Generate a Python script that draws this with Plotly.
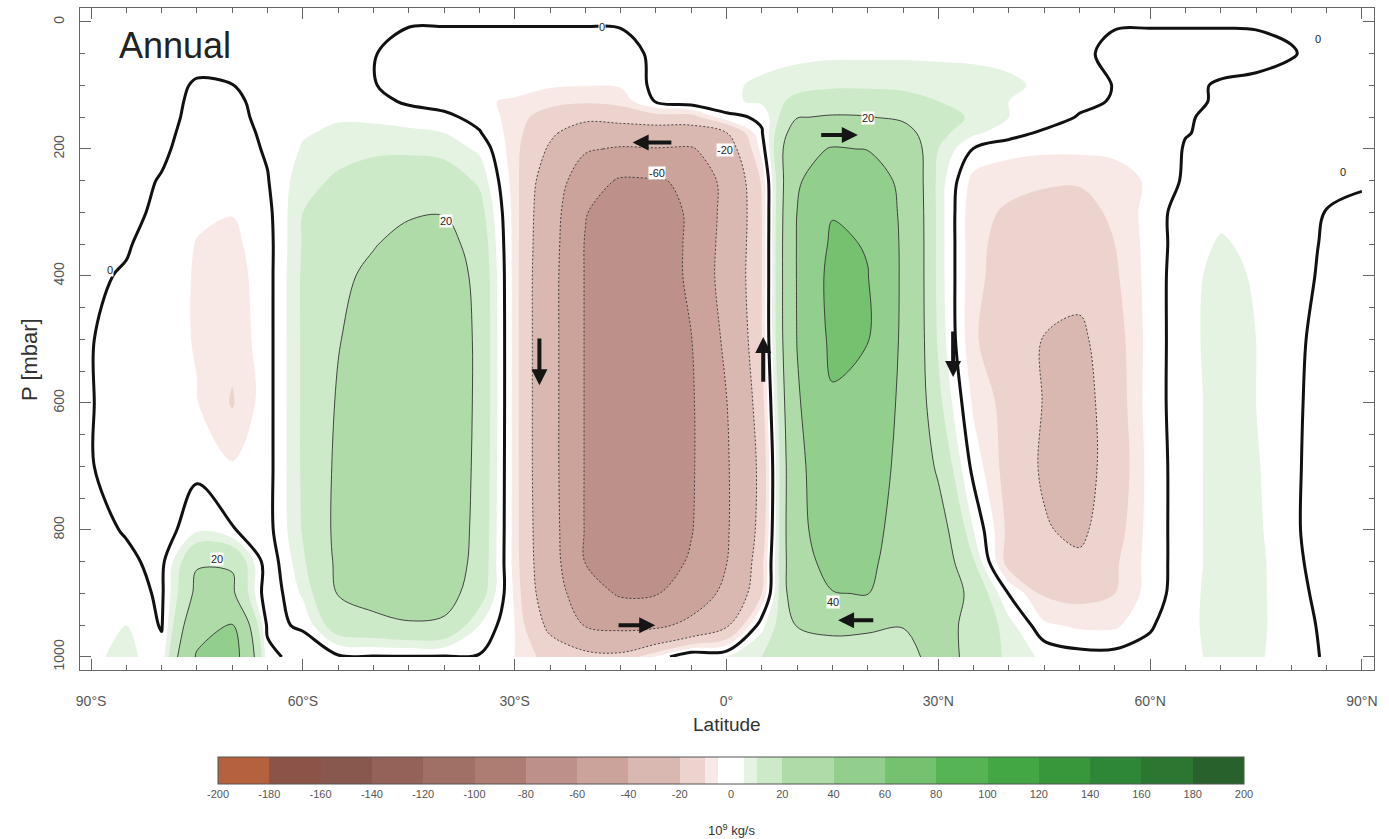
import plotly.graph_objects as go
import numpy as np

# ---------------------------------------------------------------------------
# Annual-mean meridional mass streamfunction, 10^9 kg/s
# ---------------------------------------------------------------------------
latitudes = list(range(-90, 91, 5))
pressures = [0, 50, 100, 125, 150, 175, 200, 250, 300, 350, 400,
             500, 600, 700, 800, 850, 900, 950, 1000]

# one profile per latitude, listed from the top of the atmosphere to the surface
psi_s90 = [0.5, 1, 1, 1, 1, 1, 1, 1, 1, 1, 0.8, 0.3, 0.3, 0.3, 1.5, 2.5, 3.5, 4, 4]
psi_s85 = [0.5, 1, 1, 1, 1, 1, 1, 1, 1, 0.5, -0.5, -3, -3, -3, -0.4, 1, 2.5, 5, 6.5]
psi_s80 = [0.5, 1, 1, 1, 0.8, 0.6, 0.5, -0.2, -0.8, -2.5, -3, -3.5, -3.5, -3.5, -3, -1.5, -1, -0.5, 2]
psi_s75 = [0.5, 1, -0.3, -0.6, -0.7, -0.9, -1.4, -3, -4.3, -5.2, -5.4, -5.3, -4.8, -1.5, 4, 19, 23, 32, 42]
psi_s70 = [0.5, 1, -0.05, -0.6, -1.2, -1.8, -2.5, -4, -4.8, -6.3, -7.5, -8.5, -10.5, -4.5, 0.3, 19, 22, 40.5, 50]
psi_s65 = [0.5, 1, 1, 1, 1.2, 0.9, 0.6, -0.3, -1.5, -2, -2, -2, -2, -2, -2, -4, -4.5, -1.3, 2]
psi_s60 = [0.5, 1.2, 2, 2.5, 3.5, 4.5, 5.5, 8, 10, 10.5, 11, 11, 11, 11, 10.5, 9, 6, 0.7, -3]
psi_s55 = [0.5, 1.2, 2, 3, 4.5, 6, 8, 11, 14, 16.5, 18, 19.5, 21, 22, 22.5, 22, 20.5, 15, -1]
psi_s50 = [0.5, 0.3, 0.3, 2, 4, 6.5, 9, 13, 17, 19.5, 22, 25, 27, 28, 28, 27, 24, 17, -0.5]
psi_s45 = [0.5, -2.5, -2.5, -1, 3, 6, 9, 14, 19, 23, 26, 30, 32, 32, 31, 29, 26, 19, -0.5]
psi_s40 = [0.5, -3, -2.5, -2.5, 1.5, 5, 8, 14, 19.5, 24, 27, 30, 30, 30, 29, 28, 25, 18, -0.5]
psi_s35 = [0.5, -3, -3.5, -4.5, -2, 0.5, 4, 9, 13, 15.5, 17, 17.5, 17.5, 17, 16.5, 16, 14, 5, -0.5]
psi_s30 = [0.5, -3, -3.5, -5.5, -7, -7.5, -8, -7.5, -7, -7, -7, -7, -7, -7, -7, -7, -6, -5, -5]
psi_s25 = [0.5, -3, -4.5, -7.5, -14, -18, -21.5, -28, -31, -32, -33, -33, -33, -33, -32, -31, -29, -23, -13]
psi_s20 = [0.5, -3, -4.8, -9, -17, -27, -38, -52, -59, -61, -61, -61, -61, -61, -61, -60.5, -52, -41, -15]
psi_s15 = [0.5, -2, -4.5, -8, -15, -28, -42, -62, -72, -75, -76, -76, -76, -76, -74, -70, -62, -45, -16]
psi_s10 = [0.5, 1, 1.5, 0.5, -13, -27, -41, -61, -70, -73, -73, -74, -75, -75, -73, -69, -61, -44, -4]
psi_s05 = [0.5, 2, 3, 4, -13, -27, -42, -58, -57, -56, -56, -60.5, -62, -62, -61, -58, -52, -35, 6]
psi_eq = [0.5, 2.5, 4, 4, -1.6, -20.5, -27, -33, -34, -33, -32, -36, -40.5, -42, -42, -40.5, -35, -22, 5]
psi_n05 = [0.5, 3, 6, 6, 1, -0.5, -3, -9, -10, -10, -10, -10, -13, -16, -15, -12, -10, 3.5, 10]
psi_n10 = [0.5, 3.5, 8, 12, 19.5, 28, 35, 38, 40.2, 41, 41, 40.5, 38, 36, 36, 34, 32, 20.5, 14]
psi_n15 = [0.5, 4, 9, 14, 21, 33, 41, 52, 59, 63, 66, 64, 58, 52, 48, 45, 39.5, 22, 16]
psi_n20 = [0.5, 4, 9, 14, 20.5, 31, 39.5, 50, 56, 59, 60.5, 60.5, 55, 50, 46, 44, 40.5, 21, 17]
psi_n25 = [0.5, 4, 9, 12, 18, 25, 32, 36, 37, 37.5, 37.5, 37, 36, 35, 33, 31, 29, 20.3, 17]
psi_n30 = [0.5, 4, 8, 10, 13, 12, 10, 8, 8, 8, 8, 9, 12, 18, 26, 28, 28, 24, 23]
psi_n35 = [0.5, 4, 7, 8, 9, 6, -0.3, -7, -9, -9, -9, -9.5, -6, -2, 5, 10.6, 17, 17, 18]
psi_n40 = [0.5, 3.5, 6, 5, 5, 2, -3, -9, -10.5, -11.5, -12, -13, -12.5, -13, -12, -13.4, -0.3, 7, 8]
psi_n45 = [0.5, 2.5, 4, 4, 3, -1, -4, -9.5, -11.5, -13, -15, -20.5, -20.5, -21.5, -19, -16, -11, -4, 4]
psi_n50 = [0.5, 1.2, 2, 1.5, -0.5, -2, -4, -9.5, -12, -13.5, -16, -22.5, -25, -25, -22.5, -18, -12, -6, 2]
psi_n55 = [0.5, -1.5, -0.2, -0.5, -1.5, -2, -3.5, -8, -9, -10, -11, -13, -14, -15, -13, -11, -10, -6, 2]
psi_n60 = [0.5, -2, -1.5, -1.2, -1.5, -1.5, -2, -4, -3, -3, -3, -3, -2.5, -3, -3, -3, -3, -0.6, 2]
psi_n65 = [0.5, -2, -1, -0.7, -0.2, -0.1, 0.2, 0.8, 3, 3, 3.5, 3.5, 3, 3, 3, 3, 3.5, 4, 4]
psi_n70 = [0.5, -2, 0.5, 0.4, 0.5, 0.5, 1, 2, 4, 5.5, 6.5, 7, 7, 7, 7, 7, 7, 6.5, 6]
psi_n75 = [0.5, -1.5, 1, 1, 1, 1, 1.5, 2, 3, 4, 4.5, 5, 5, 5.5, 6, 6.5, 6.5, 6.5, 6]
psi_n80 = [0.5, -0.2, 1, 1, 1, 1, 1, 1.5, 2, 2, 2, 1.8, 1.6, 1.4, 1.2, 1.4, 1.6, 1.8, 2]
psi_n85 = [0.5, 1, 1, 1, 1, 1, 1, 0.5, -0.1, -0.6, -1, -2.5, -3.2, -3.5, -3.4, -2.5, -1.5, -0.8, -0.5]
psi_n90 = [0.5, 1, 1, 1, 1, 1, 0.8, 0.2, -0.4, -0.6, -0.8, -1, -1, -1, -1, -1, -0.8, -0.6, -0.5]

profiles = [psi_s90, psi_s85, psi_s80, psi_s75, psi_s70, psi_s65, psi_s60, psi_s55,
            psi_s50, psi_s45, psi_s40, psi_s35, psi_s30, psi_s25, psi_s20, psi_s15,
            psi_s10, psi_s05, psi_eq, psi_n05, psi_n10, psi_n15, psi_n20, psi_n25,
            psi_n30, psi_n35, psi_n40, psi_n45, psi_n50, psi_n55, psi_n60, psi_n65,
            psi_n70, psi_n75, psi_n80, psi_n85, psi_n90]
psi = np.array(profiles, dtype=float).T      # rows = pressure, columns = latitude

# shading intervals and their colours
band_edges = [-200, -180, -160, -140, -120, -100, -80, -60, -40, -20, -10, -5,
              5, 10, 20, 40, 60, 80, 100, 120, 140, 160, 180, 200]
band_colors = ['#b5613d', '#8c5449', '#88574e', '#946258', '#a06f65', '#ad7d73',
               '#bd9189', '#cba39b', '#d9b8b1', '#ecd3ce', '#f8e9e6', '#ffffff',
               '#e5f3e2', '#cce9c8', '#afdba9', '#92ce8c', '#74c16f', '#57b454',
               '#43a744', '#36973b', '#2e8736', '#2b7631', '#28612c']
bar_ticks = list(range(-200, 201, 20))

# axis labelling
lat_ticks = [-90, -60, -30, 0, 30, 60, 90]
lat_labels = ['90°S', '60°S', '30°S', '0°', '30°N', '60°N', '90°N']
p_ticks = [0, 200, 400, 600, 800, 1000]

# inline contour labels: latitude, pressure, text
label_lat = [-17.6, -87.3, 83.8, 87.3, -39.7, -72.2, 20.0, -0.2, -9.8, 15.1]
label_p = [8, 390, 27, 236, 313, 846, 151, 202, 238, 913]
label_text = ['0', '0', '0', '0', '20', '20', '20', '-20', '-60', '40']

# circulation arrows: tail (lat, p) -> head (lat, p)
arrow_tail_lat = [-7.6, 13.2, -26.5, 5.2, 32.1, -15.5, 21.0]
arrow_tail_p = [190, 178, 496, 569, 485, 950, 942]
arrow_head_lat = [-13.3, 18.6, -26.5, 5.2, 32.1, -10.1, 15.8]
arrow_head_p = [190, 178, 572, 496, 559, 950, 942]

# ---------------------------------------------------------------------------
FILL_START, FILL_END, FILL_STEP = -195, 195, 5


def fill_pos(v):
    # contour fills sample the colour scale at band midpoints over
    # [start - step/2, end + step/2]
    lo = FILL_START - FILL_STEP / 2
    hi = FILL_END + FILL_STEP / 2
    return min(1.0, max(0.0, (v - lo) / (hi - lo)))


def bar_pos(v):
    return (v + 200) / 400


def stepped(posfunc):
    scale = []
    for i, c in enumerate(band_colors):
        scale.append([posfunc(band_edges[i]), c])
        scale.append([posfunc(band_edges[i + 1]), c])
    return scale


fill_scale = stepped(fill_pos)
bar_scale = stepped(bar_pos)

W, H = 1389, 839
ML, MR, MT, MB = 80, 15, 8, 169
PW, PH = W - ML - MR, H - MT - MB


def px_x(px):
    return (px - ML) / PW


def px_y(py):
    return (H - MB - py) / PH


FONT = 'Liberation Sans, Arial, Helvetica, sans-serif'

fig = go.Figure()

fig.add_trace(go.Contour(
    x=latitudes, y=pressures, z=psi,
    autocontour=False,
    contours=dict(start=FILL_START, end=FILL_END, size=FILL_STEP,
                  coloring='fill', showlines=False),
    colorscale=fill_scale, showscale=False,
    line=dict(width=0, smoothing=1),
    hoverinfo='skip'))

fig.add_trace(go.Contour(
    x=latitudes, y=pressures, z=psi,
    autocontour=False,
    contours=dict(start=20, end=200, size=20, coloring='none'),
    line=dict(color='#333333', width=0.9, smoothing=1),
    showscale=False, hoverinfo='skip'))

fig.add_trace(go.Contour(
    x=latitudes, y=pressures, z=psi,
    autocontour=False,
    contours=dict(start=-200, end=-20, size=20, coloring='none'),
    line=dict(color='#333333', width=0.9, dash='2px,2px', smoothing=1),
    showscale=False, hoverinfo='skip'))

fig.add_trace(go.Contour(
    x=latitudes, y=pressures, z=psi,
    autocontour=False,
    contours=dict(start=0, end=0, size=1, coloring='none'),
    line=dict(color='#111111', width=3, smoothing=1),
    showscale=False, hoverinfo='skip'))

# colour bar
fig.add_trace(go.Scatter(
    x=[None], y=[None], mode='markers', showlegend=False, hoverinfo='skip',
    marker=dict(color=[0], colorscale=bar_scale, cmin=-200, cmax=200,
                showscale=True,
                colorbar=dict(orientation='h', x=px_x(731), xanchor='center',
                              y=px_y(757), yanchor='top',
                              len=1026, lenmode='pixels',
                              thickness=27, thicknessmode='pixels',
                              outlinewidth=1, outlinecolor='#555555',
                              xpad=0, ypad=0,
                              tickvals=bar_ticks,
                              ticktext=[str(t) for t in bar_ticks],
                              ticks='',
                              tickfont=dict(family=FONT, size=11, color='#555555')))))

annotations = []
for la, pp, tx in zip(label_lat, label_p, label_text):
    annotations.append(dict(x=la, y=pp, xref='x', yref='y', text=tx,
                            showarrow=False, bgcolor='white', borderpad=0,
                            font=dict(family=FONT, size=11, color='#222222')))
for tla, tp, hla, hp in zip(arrow_tail_lat, arrow_tail_p, arrow_head_lat, arrow_head_p):
    annotations.append(dict(x=hla, y=hp, ax=tla, ay=tp, xref='x', yref='y',
                            axref='x', ayref='y', text='', showarrow=True,
                            arrowhead=2, arrowsize=0.8, arrowwidth=4,
                            arrowcolor='#151515', standoff=0, startstandoff=0))

annotations += [
    dict(x=px_x(117), y=px_y(45), xref='paper', yref='paper', text='Annual',
         xanchor='left', yanchor='middle', showarrow=False,
         font=dict(family=FONT, size=36, color='#222222')),
    dict(x=px_x(29), y=px_y(360), xref='paper', yref='paper', text='P [mbar]',
         textangle=-90, xanchor='center', yanchor='middle', showarrow=False,
         font=dict(family=FONT, size=22, color='#333333')),
    dict(x=px_x(727), y=px_y(724), xref='paper', yref='paper', text='Latitude',
         xanchor='center', yanchor='middle', showarrow=False,
         font=dict(family=FONT, size=19, color='#333333')),
    dict(x=px_x(731), y=px_y(830), xref='paper', yref='paper',
         text='10<sup>9</sup> kg/s', xanchor='center', yanchor='middle',
         showarrow=False, font=dict(family=FONT, size=13, color='#333333')),
]

axis_common = dict(showgrid=False, zeroline=False, showline=True,
                   linecolor='#666666', linewidth=1.3, mirror='allticks',
                   ticks='inside', ticklen=11, tickwidth=1, tickcolor='#666666',
                   tickfont=dict(family=FONT, size=14, color='#555555'))

fig.update_layout(
    width=W, height=H,
    margin=dict(l=ML, r=MR, t=MT, b=MB, pad=0),
    paper_bgcolor='white', plot_bgcolor='white',
    font=dict(family=FONT),
    showlegend=False,
    xaxis=dict(range=[-91.57, 91.71], tickmode='array', tickvals=lat_ticks,
               ticktext=lat_labels, ticklabelstandoff=18,
               minor=dict(tickmode='linear', tick0=0, dtick=5, ticks='inside',
                          ticklen=5, tickcolor='#666666', showgrid=False),
               **axis_common),
    yaxis=dict(range=[1020.5, -22.0], tickmode='array', tickvals=p_ticks,
               tickangle=-90, ticklabelstandoff=9,
               minor=dict(tickmode='linear', tick0=0, dtick=50, ticks='inside',
                          ticklen=5, tickcolor='#666666', showgrid=False),
               **axis_common),
    annotations=annotations,
)

fig.write_html("out.html")
